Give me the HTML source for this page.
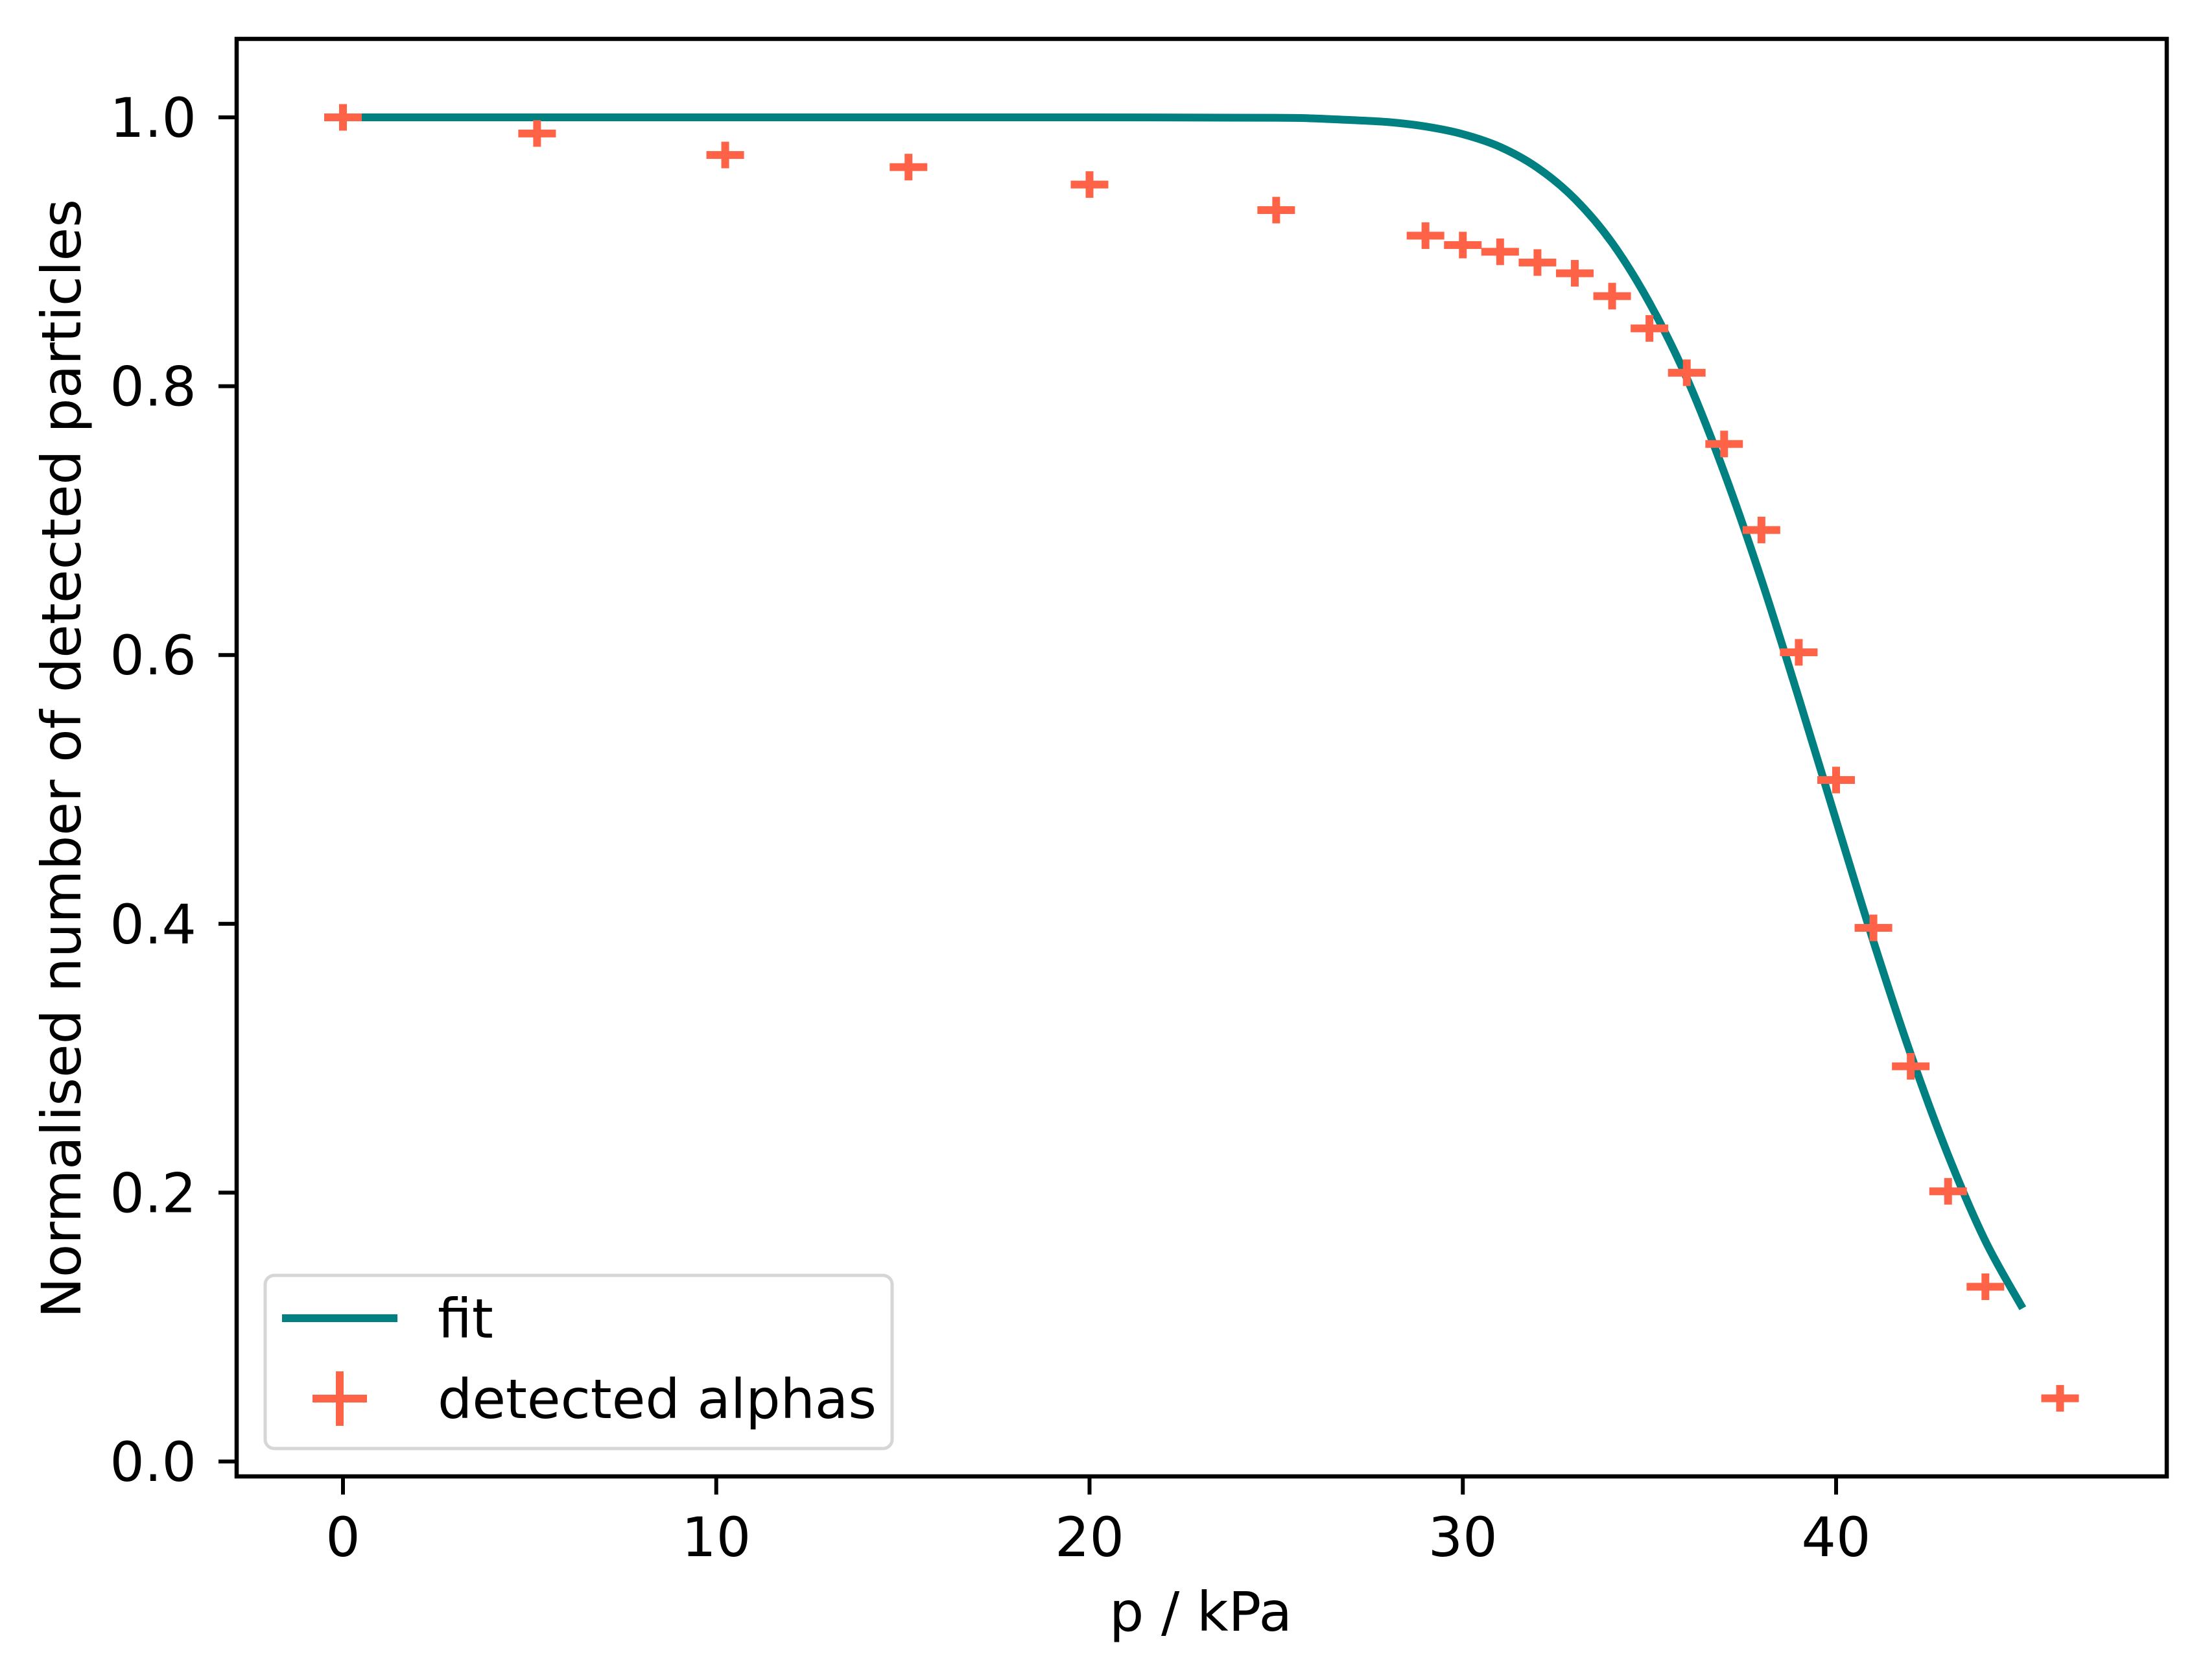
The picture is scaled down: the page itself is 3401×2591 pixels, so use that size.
<!DOCTYPE html>
<html><head><meta charset="utf-8"><style>
html,body{margin:0;padding:0;background:#fff;}
svg{display:block;}
text{font-family:"DejaVu Sans","Liberation Sans",sans-serif;fill:#000;}
</style></head><body>
<svg id="chart" width="3401" height="2591" viewBox="0 0 3401 2591" xmlns="http://www.w3.org/2000/svg">
<rect x="0" y="0" width="3401" height="2591" fill="#fff"/>
<g id="plot"></g>
<g id="axes"></g>
<g id="legend"></g>
</svg>
<script>
const pointX = [0, 5.2, 10.24, 15.15, 20, 25, 29, 30, 31, 32, 33, 34, 35, 36, 37, 38, 39, 40, 41, 42, 43, 44, 46];
const pointY = [1.0, 0.988, 0.972, 0.963, 0.950, 0.931, 0.912, 0.905, 0.900, 0.892, 0.884, 0.867, 0.843, 0.810, 0.757, 0.693, 0.602, 0.507, 0.397, 0.294, 0.201, 0.130, 0.047];
const fitX = [0, 5, 10, 15, 20, 25, 26, 27, 28, 29, 30, 31, 32, 33, 34, 35, 36, 37, 38, 39, 40, 41, 42, 43, 44, 45];
const fitY = [1.0, 1.0, 1.0, 1.0, 1.0, 0.9997, 0.9992, 0.998, 0.9965, 0.9932, 0.9875, 0.978, 0.9625, 0.9394, 0.9066, 0.862, 0.806, 0.736, 0.656, 0.568, 0.477, 0.387, 0.303, 0.228, 0.164, 0.114];
const xTicks = [0, 10, 20, 30, 40];
const yTicks = [0.0, 0.2, 0.4, 0.6, 0.8, 1.0];
const yTickLabels = ["0.0", "0.2", "0.4", "0.6", "0.8", "1.0"];

const NS = "http://www.w3.org/2000/svg";
const L = 365, R = 3342, T = 60, B = 2277;
function sx(v){ return 529 + v * 57.575; }
function sy(v){ return 2254 - v * 2073; }
function mk(tag, attrs, parent){
  const e = document.createElementNS(NS, tag);
  for (const k in attrs) e.setAttribute(k, attrs[k]);
  parent.appendChild(e);
  return e;
}
const plot = document.getElementById('plot');
const axes = document.getElementById('axes');
const legend = document.getElementById('legend');

// fit line (catmull-rom smoothing)
const pts = fitX.map((x, i) => [sx(x), sy(fitY[i])]);
let d = "M" + pts[0][0] + "," + pts[0][1];
for (let i = 0; i < pts.length - 1; i++) {
  const p0 = pts[Math.max(0, i - 1)], p1 = pts[i], p2 = pts[i + 1], p3 = pts[Math.min(pts.length - 1, i + 2)];
  const c1x = p1[0] + (p2[0] - p0[0]) / 6, c1y = p1[1] + (p2[1] - p0[1]) / 6;
  const c2x = p2[0] - (p3[0] - p1[0]) / 6, c2y = p2[1] - (p3[1] - p1[1]) / 6;
  d += " C" + c1x + "," + c1y + " " + c2x + "," + c2y + " " + p2[0] + "," + p2[1];
}
const fitPath = mk('path', {d: d, fill: 'none', stroke: '#008080', 'stroke-width': 12}, plot);



// markers
pointX.forEach((x, i) => {
  const cx = sx(x), cy = sy(pointY[i]);
  const g = mk('g', {}, plot);
  
  
  mk('rect', {x: cx - 29, y: cy - 6, width: 58, height: 12, fill: '#ff6347'}, g);
  mk('rect', {x: cx - 6, y: cy - 20.5, width: 12, height: 41, fill: '#ff6347'}, g);
});

// frame
const frame = mk('rect', {x: L, y: T, width: R - L, height: B - T, fill: 'none', stroke: '#000', 'stroke-width': 6.5}, axes);



xTicks.forEach(v => {
  const x = sx(v);
  const t = mk('line', {x1: x, y1: B, x2: x, y2: B + 28, stroke: '#000', 'stroke-width': 6}, axes);
  
  
  const lb = mk('text', {x: x, y: 2400, 'font-size': 84, 'text-anchor': 'middle'}, axes);
  lb.textContent = String(v);
  
  
});
yTicks.forEach((v, i) => {
  const y = sy(v);
  const t = mk('line', {x1: L - 28, y1: y, x2: L, y2: y, stroke: '#000', 'stroke-width': 6}, axes);
  
  
  const lb = mk('text', {x: 303, y: y + 30, 'font-size': 84, 'text-anchor': 'end'}, axes);
  lb.textContent = yTickLabels[i];
  
  
});
</script>
<svg style="position:absolute;left:0;top:0" width="3401" height="2591" viewBox="0 0 3401 2591" xmlns="http://www.w3.org/2000/svg">
<text x="1852" y="2515" font-size="84" text-anchor="middle">p / kPa</text>
<text transform="translate(124,1170) rotate(-90)" font-size="84" text-anchor="middle">Normalised number of detected particles</text>
<g>
<rect x="409" y="1967" width="967" height="267" rx="14" ry="14" fill="#fff" fill-opacity="0.8" stroke="#d6d6d6" stroke-width="5"/>
<g>
<line x1="435" y1="2033" x2="613" y2="2033" stroke="#008080" stroke-width="12"/>
<text x="675" y="2063" font-size="84">fit</text>
</g>
<g>
<rect x="482" y="2151" width="84" height="12" fill="#ff6347"/>
<rect x="518" y="2115" width="12" height="84" fill="#ff6347"/>
<text x="675" y="2187" font-size="84">detected alphas</text>
</g>
</g>
</svg>
</body></html>
